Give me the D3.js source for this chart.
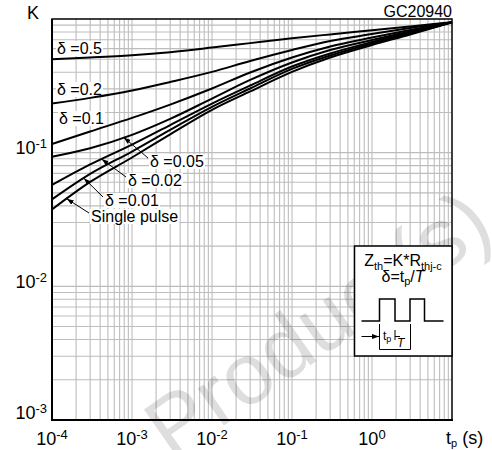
<!DOCTYPE html>
<html><head><meta charset="utf-8">
<script src="https://cdn.jsdelivr.net/npm/d3@7"></script>
<style>
body{margin:0;background:#fff}
svg{display:block}
text{font-family:"Liberation Sans",Arial,Helvetica,sans-serif}
</style>
</head><body>
<svg id="c" width="492" height="450"></svg>
<script>
// ---------- data ----------
const tValues = [1e-4, 3e-4, 1e-3, 3e-3, 1e-2, 3e-2, 1e-1, 3e-1, 1, 3, 10];
const k050    = [0.500, 0.515, 0.536, 0.565, 0.611, 0.660, 0.717, 0.767, 0.823, 0.879, 0.945];
const k020    = [0.233, 0.257, 0.292, 0.338, 0.402, 0.485, 0.586, 0.685, 0.772, 0.856, 0.945];
const k010    = [0.116, 0.144, 0.182, 0.229, 0.302, 0.398, 0.515, 0.623, 0.727, 0.827, 0.945];
const k005    = [0.0933, 0.108, 0.136, 0.179, 0.254, 0.350, 0.473, 0.586, 0.697, 0.806, 0.945];
const k002    = [0.0573, 0.0816, 0.115, 0.161, 0.233, 0.318, 0.441, 0.552, 0.673, 0.793, 0.945];
const k001    = [0.0447, 0.0693, 0.102, 0.148, 0.220, 0.302, 0.423, 0.533, 0.656, 0.779, 0.945];
const kSingle = [0.0376, 0.0604, 0.0920, 0.137, 0.209, 0.287, 0.402, 0.515, 0.639, 0.766, 0.945];
const seriesLabels = ["δ =0.5", "δ =0.2", "δ =0.1", "δ =0.05", "δ =0.02", "δ =0.01", "Single pulse"];
const arrowTipT = [null, null, null, 7.9e-4, 4.17e-4, 2.5e-4, 1.53e-4];
const xTickExps = [-4, -3, -2, -1, 0];
const yTickExps = [-3, -2, -1];
const chartCode = "GC20940";

// ---------- layout ----------
const m = {left: 52, top: 19, right: 452, bottom: 420};
const labelPos = [[57, 54], [57, 95], [59, 124], [150, 167], [128, 186], [105, 206], [91, 222]];

const svg = d3.select("#c");
const x = d3.scaleLog().domain([1e-4, 10]).range([m.left, m.right]);
const y = d3.scaleLog().domain([1e-3, 1]).range([m.bottom, m.top]);

svg.append("defs").append("marker")
  .attr("id", "ah").attr("viewBox", "0 0 10 10").attr("refX", 10).attr("refY", 5)
  .attr("markerWidth", 7).attr("markerHeight", 7).attr("markerUnits", "userSpaceOnUse")
  .attr("orient", "auto")
  .append("path").attr("d", "M0,1.5 L10,5 L0,8.5 Z").attr("fill", "#000");

// ---------- grid ----------
const xGrid = [], yGrid = [];
for (let n = -4; n <= 0; n++) for (let k = 1; k <= 9; k++) xGrid.push(k * Math.pow(10, n));
for (let n = -3; n <= -1; n++) for (let k = 1; k <= 9; k++) yGrid.push(k * Math.pow(10, n));
const grid = svg.append("g").attr("stroke", "#bdbdbd").attr("stroke-width", 1.1);
grid.selectAll("line.v").data(xGrid).join("line").attr("class", "v")
  .attr("x1", d => x(d)).attr("x2", d => x(d)).attr("y1", m.top).attr("y2", m.bottom);
grid.selectAll("line.h").data(yGrid).join("line").attr("class", "h")
  .attr("y1", d => y(d)).attr("y2", d => y(d)).attr("x1", m.left).attr("x2", m.right);

// ---------- watermark ----------
svg.append("text").attr("transform", "translate(172,462) rotate(-35)")
  .attr("font-size", 86).style("fill", "#000").style("fill-opacity", 0.13).text("Product(s)");

// ---------- label layers ----------
const bgG = svg.append("g");
const curveG = svg.append("g");
const txtG = svg.append("g");

// ---------- curves ----------
const series = [k050, k020, k010, k005, k002, k001, kSingle];
const line = d3.line().x(d => x(d[0])).y(d => y(d[1])).curve(d3.curveMonotoneX);
curveG.selectAll("path").data(series).join("path")
  .attr("d", s => line(tValues.map((t, i) => [t, s[i]])))
  .attr("fill", "none").attr("stroke", "#000").attr("stroke-width", 2);

function interpK(s, t) {
  const lt = Math.log10(t);
  for (let i = 0; i < tValues.length - 1; i++) {
    const a = Math.log10(tValues[i]), b = Math.log10(tValues[i + 1]);
    if (lt >= a && lt <= b) {
      const f = (lt - a) / (b - a);
      return Math.pow(10, Math.log10(s[i]) + f * (Math.log10(s[i + 1]) - Math.log10(s[i])));
    }
  }
  return s[0];
}

seriesLabels.forEach((lab, i) => {
  const [lx, ly] = labelPos[i];
  const t = txtG.append("text").attr("x", lx).attr("y", ly).attr("font-size", 16).attr("fill", "#000").text(lab);
  const bb = t.node().getBBox();
  bgG.append("rect").attr("x", bb.x - 1).attr("y", bb.y + 1).attr("width", bb.width + 2)
    .attr("height", bb.height - 2).attr("fill", "#fff");
  if (arrowTipT[i] !== null) {
    const tt = arrowTipT[i];
    txtG.append("line").attr("x1", lx - 2).attr("y1", ly - 9)
      .attr("x2", x(tt)).attr("y2", y(interpK(series[i], tt)))
      .attr("stroke", "#000").attr("stroke-width", 1).attr("marker-end", "url(#ah)");
  }
});

// ---------- frame ----------
svg.append("rect").attr("x", m.left).attr("y", m.top).attr("width", m.right - m.left)
  .attr("height", m.bottom - m.top).attr("fill", "none").attr("stroke", "#000").attr("stroke-width", 1.5);
svg.append("line").attr("x1", m.left).attr("x2", m.left).attr("y1", m.top).attr("y2", m.bottom + 1)
  .attr("stroke", "#000").attr("stroke-width", 2);
svg.append("line").attr("x1", m.left - 1).attr("x2", m.right + 1).attr("y1", m.bottom).attr("y2", m.bottom)
  .attr("stroke", "#000").attr("stroke-width", 2);

// ---------- tick labels ----------
const xt = svg.append("g").attr("fill", "#000");
xTickExps.forEach(e => {
  const t = xt.append("text").attr("x", x(Math.pow(10, e))).attr("y", 445)
    .attr("text-anchor", "middle").attr("font-size", 18);
  t.append("tspan").text("10");
  t.append("tspan").attr("font-size", 13).attr("dy", -6).text(String(e));
});
yTickExps.forEach(e => {
  const gy = y(Math.pow(10, e));
  const t = xt.append("text").attr("x", 47).attr("y", e === -3 ? gy - 1 : gy + 1.5)
    .attr("text-anchor", "end").attr("font-size", 18);
  t.append("tspan").text("10");
  t.append("tspan").attr("font-size", 13).attr("dy", -6).text(String(e));
});
xt.append("text").attr("x", 27).attr("y", 19).attr("font-size", 18).text("K");
const xl = xt.append("text").attr("x", 446).attr("y", 444).attr("font-size", 18);
xl.append("tspan").text("t");
xl.append("tspan").attr("font-size", 11).attr("dy", 3).text("p");
xl.append("tspan").attr("dy", -3).text(" (s)");
xt.append("text").attr("x", m.right).attr("y", 17).attr("text-anchor", "end")
  .attr("font-size", 16).text(chartCode);

// ---------- inset ----------
const ins = svg.append("g");
ins.append("rect").attr("x", 354.5).attr("y", 246).attr("width", m.right - 354.5).attr("height", 110)
  .attr("fill", "#fff").attr("stroke", "#000").attr("stroke-width", 1.5);
const z = ins.append("text").attr("x", 403).attr("y", 266).attr("text-anchor", "middle").attr("font-size", 16).attr("fill", "#000");
z.append("tspan").text("Z");
z.append("tspan").attr("font-size", 11).attr("dy", 4).text("th");
z.append("tspan").attr("dy", -4).text("=K*R");
z.append("tspan").attr("font-size", 11).attr("dy", 4).text("thj-c");
const dl = ins.append("text").attr("x", 403).attr("y", 282).attr("text-anchor", "middle").attr("font-size", 16).attr("fill", "#000");
dl.append("tspan").text("δ=t");
dl.append("tspan").attr("font-size", 11).attr("dy", 3).text("p");
dl.append("tspan").attr("dy", -3).text("/");
dl.append("tspan").attr("font-style", "italic").text("T");
ins.append("path").attr("d", "M361.5,321 H379.5 V299 H395 V321 H410 V299 H424.5 V321 H443.5")
  .attr("fill", "none").attr("stroke", "#000").attr("stroke-width", 1.5);
ins.append("line").attr("x1", 361.5).attr("y1", 336.5).attr("x2", 379).attr("y2", 336.5)
  .attr("stroke", "#000").attr("stroke-width", 1).attr("marker-end", "url(#ah)");
ins.append("path").attr("d", "M379.5,324 V349.5 H410.5 V324 M395,330 V340 M395,336.5 H400")
  .attr("fill", "none").attr("stroke", "#000").attr("stroke-width", 1);
const tp = ins.append("text").attr("x", 383).attr("y", 340).attr("font-size", 12).attr("fill", "#000");
tp.append("tspan").text("t");
tp.append("tspan").attr("font-size", 9).attr("dy", 2).text("p");
ins.append("text").attr("x", 397).attr("y", 347).attr("font-size", 12).attr("font-style", "italic").attr("fill", "#000").text("T");
</script>
</body></html>
